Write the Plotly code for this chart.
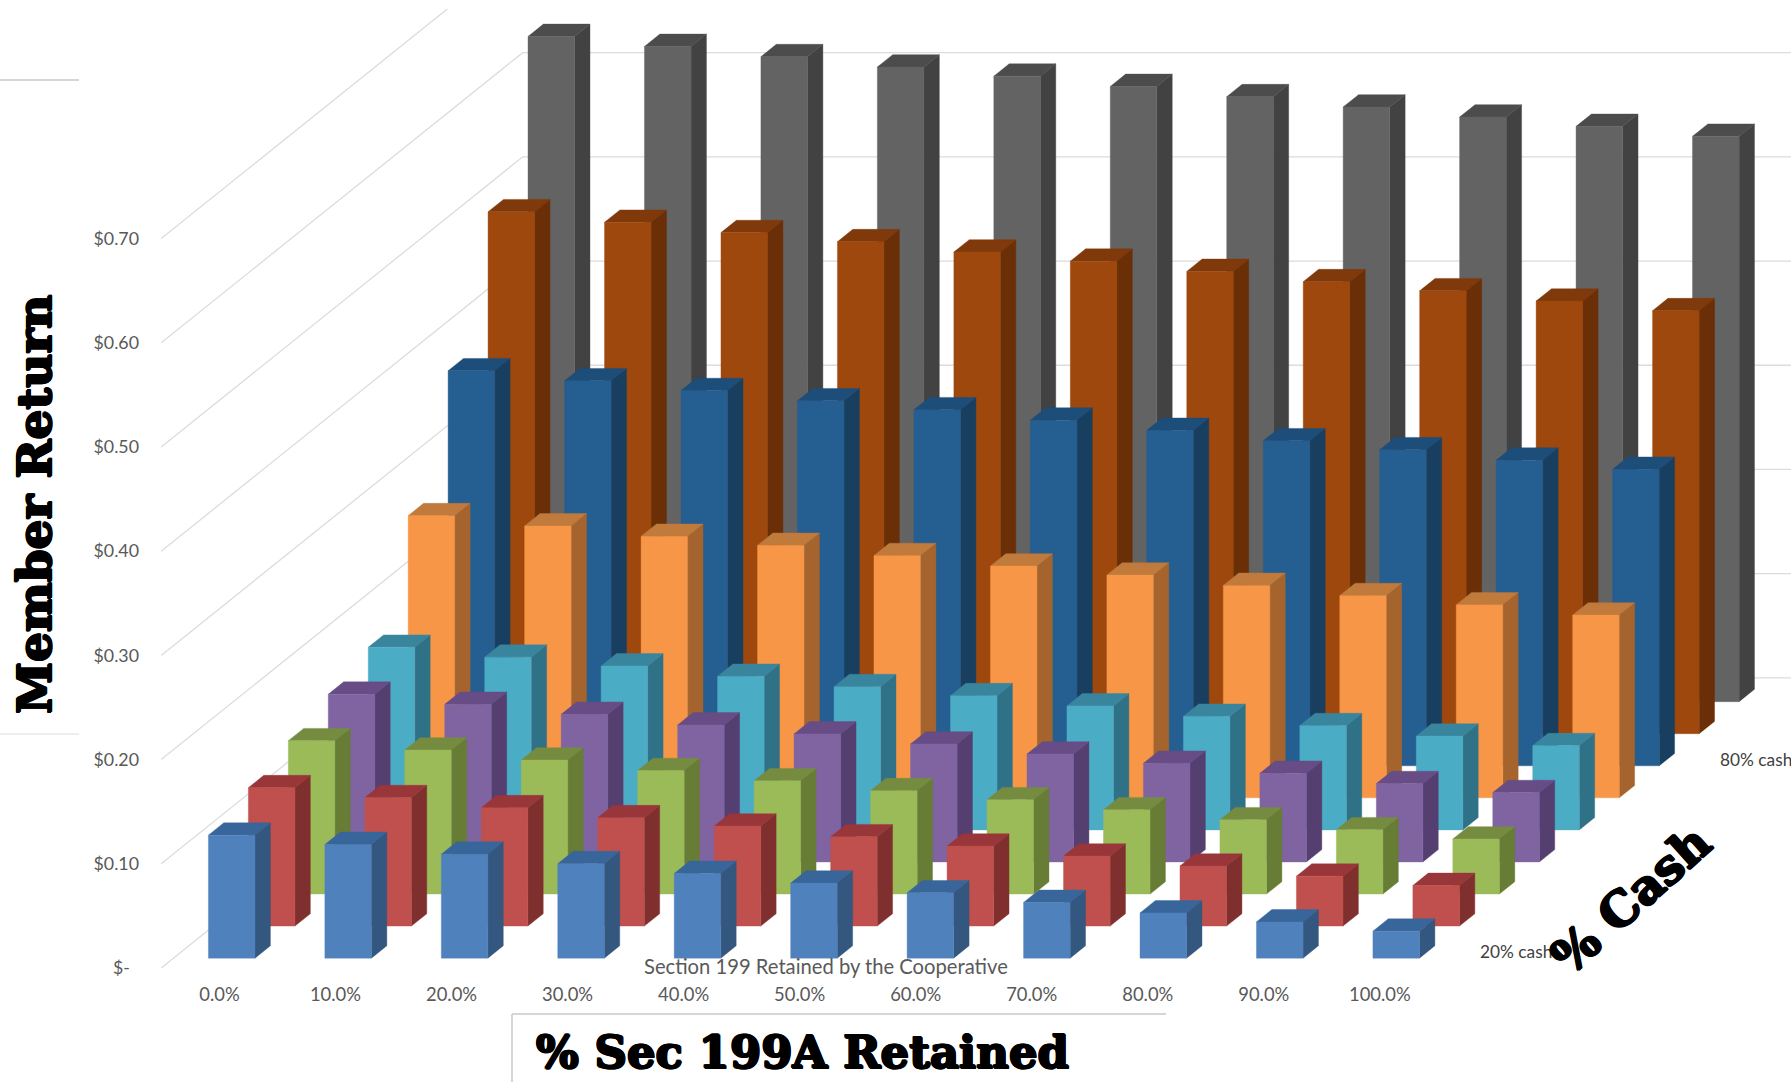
import plotly.graph_objects as go

# Section 199A retained by the cooperative, one slot per category
retained_labels = ["0.0%", "10.0%", "20.0%", "30.0%", "40.0%", "50.0%",
                   "60.0%", "70.0%", "80.0%", "90.0%", "100.0%"]

# Member return per cash share, front row first
cash_labels = ["20% cash", "30% cash", "40% cash", "50% cash", "60% cash",
               "70% cash", "80% cash", "90% cash", "100% cash"]
labelled_cash = ["20% cash", "80% cash"]

cash_20 = [.1180, .1091, .0998, .0907, .0813, .0720, .0627, .0535, .0434, .0348, .0259]
cash_30 = [.1328, .1233, .1136, .1040, .0960, .0857, .0768, .0672, .0576, .0479, .0390]
cash_40 = [.1471, .1382, .1286, .1185, .1087, .0992, .0905, .0809, .0713, .0617, .0528]
cash_50 = [.1610, .1513, .1417, .1315, .1229, .1132, .1036, .0947, .0851, .0752, .0666]
cash_60 = [.1753, .1658, .1574, .1474, .1375, .1288, .1190, .1090, .1001, .0900, .0809]
cash_70 = [.2708, .2610, .2510, .2423, .2325, .2225, .2138, .2039, .1941, .1853, .1754]
cash_80 = [.3791, .3695, .3601, .3503, .3417, .3317, .3219, .3119, .3033, .2933, .2845]
cash_90 = [.5009, .4908, .4809, .4722, .4623, .4535, .4437, .4338, .4251, .4152, .4060]
cash_100 = [.6384, .6288, .6190, .6091, .6003, .5904, .5806, .5707, .5611, .5521, .5426]

all_series = [cash_20, cash_30, cash_40, cash_50, cash_60, cash_70, cash_80, cash_90, cash_100]

return_ticks = [0, .1, .2, .3, .4, .5, .6, .7]
return_tick_labels = ["$-\u00a0\u00a0", "$0.10", "$0.20", "$0.30", "$0.40", "$0.50", "$0.60", "$0.70"]

# (front, side, top) shades per series
face_colors = [
    ("#4F81BD", "#33577F", "#38669A"),
    ("#C0504D", "#802F2F", "#99363A"),
    ("#9BBB59", "#677C34", "#758C40"),
    ("#8064A2", "#553F70", "#674C85"),
    ("#4BACC6", "#2F7288", "#3A859E"),
    ("#F79646", "#A5642E", "#C07A3C"),
    ("#255E91", "#193F60", "#1D4D79"),
    ("#9E480E", "#6A2F07", "#80390A"),
    ("#636363", "#424242", "#4C4C4C"),
]

W, H = 1791, 1082
SLOT_PX = 116.45
VALUE_PX = 1042.0
ORIGIN_X, ORIGIN_Y = 161.2, 968.0
TOP_CLIP = 9
DEPTH_X = 39.95 / SLOT_PX      # sideways shift per series slot, in category units
DEPTH_Y = 32.06 / VALUE_PX     # upward shift per series slot, in dollars
BAR_W = 0.4
BAR_D = 0.385


def project(slot, depth, value):
    """Oblique projection of (category slot, series depth, dollars) onto the axes."""
    return slot + depth * DEPTH_X, value + depth * DEPTH_Y


def px_x(px):
    return px / W


def px_y(py):
    return 1 - py / H


fig = go.Figure()

# Floor-to-wall gridlines: along the left wall, then across the back wall
grid_x, grid_y = [], []
n_depth = len(all_series)
n_slots = len(retained_labels)
wall_depth = n_depth + 0.05
for tick in return_ticks:
    for slot, depth in ((0, 0), (0, wall_depth), (n_slots + 1, wall_depth)):
        gx, gy = project(slot, depth, tick)
        grid_x.append(gx)
        grid_y.append(gy)
    grid_x.append(None)
    grid_y.append(None)
fig.add_trace(go.Scatter(x=grid_x, y=grid_y, mode="lines", hoverinfo="skip",
                         line=dict(color="#DCDCDC", width=1.3), showlegend=False))


def add_face(xs, ys, color):
    fig.add_trace(go.Scatter(x=xs, y=ys, mode="lines", fill="toself", fillcolor=color,
                             line=dict(color=color, width=0.4), hoverinfo="skip",
                             showlegend=False))


# Rows are painted back to front so nearer bars cover farther ones
for s in reversed(range(n_depth)):
    front_c, side_c, top_c = face_colors[s]
    d0 = s + (1 - BAR_D) / 2
    d1 = d0 + BAR_D
    front, side, top = ([], []), ([], []), ([], [])
    for i, v in enumerate(all_series[s]):
        x0 = i + (1 - BAR_W) / 2
        x1 = x0 + BAR_W
        polys = (
            (front, [(x0, d0, 0), (x1, d0, 0), (x1, d0, v), (x0, d0, v)]),
            (side, [(x1, d0, 0), (x1, d1, 0), (x1, d1, v), (x1, d0, v)]),
            (top, [(x0, d0, v), (x1, d0, v), (x1, d1, v), (x0, d1, v)]),
        )
        for store, corners in polys:
            pts = [project(*c) for c in corners]
            pts.append(pts[0])
            store[0].extend([p[0] for p in pts] + [None])
            store[1].extend([p[1] for p in pts] + [None])
    add_face(side[0], side[1], side_c)
    add_face(top[0], top[1], top_c)
    add_face(front[0], front[1], front_c)

x_tick_font = dict(family="Lato, sans-serif", size=18.4, color="#595959")
y_tick_font = dict(family="Lato, sans-serif", size=17.8, color="#595959")

annotations = []

# Depth axis labels sit just past the last category at their row's centre
for name in labelled_cash:
    s = cash_labels.index(name)
    ax, ay = project(n_slots + 0.14, s + 0.5, 0)
    annotations.append(dict(x=ax, y=ay, xref="x", yref="y", text=name, showarrow=False,
                            xanchor="left", yanchor="middle",
                            font=dict(family="Lato, sans-serif", size=17.3, color="#404040")))

annotations.append(dict(x=px_x(826), y=px_y(966), xref="paper", yref="paper",
                        xanchor="center", yanchor="middle",
                        text="Section 199 Retained by the Cooperative", showarrow=False,
                        font=dict(family="Lato, sans-serif", size=20.2, color="#595959")))

# Heavy slab look for the hand-placed titles
heavy = "1px 0 0 #000, -1px 0 0 #000, 0 1px 0 #000, 0 -1px 0 #000, 1px 1px 0 #000, -1px -1px 0 #000"
title_font = dict(family="DejaVu Serif, serif", color="#000000", shadow=heavy)
annotations.append(dict(x=px_x(34), y=px_y(505), xref="paper", yref="paper", text="<b>Member Return</b>",
                        xanchor="center", yanchor="middle",
                        textangle=-90, showarrow=False, font=dict(size=47, **title_font)))
annotations.append(dict(x=px_x(802), y=px_y(1052), xref="paper", yref="paper", text="<b>% Sec 199A Retained</b>",
                        xanchor="center", yanchor="middle",
                        showarrow=False, font=dict(size=45, **title_font)))
annotations.append(dict(x=px_x(1631), y=px_y(899), xref="paper", yref="paper", text="<b>% Cash</b>",
                        xanchor="center", yanchor="middle",
                        textangle=-42, showarrow=False, font=dict(size=48, **title_font)))

rules = [
    dict(x0=0, x1=79, y0=80, y1=80, color="#C8C8C8", width=1.5),
    dict(x0=0, x1=79, y0=734, y1=734, color="#DDDDDD", width=1.2),
    dict(x0=512, x1=1166, y0=1014, y1=1014, color="#C8C8C8", width=1.5),
    dict(x0=512, x1=512, y0=1014, y1=1082, color="#C8C8C8", width=1.5),
]
shapes = [dict(type="line", xref="paper", yref="paper",
               x0=px_x(r["x0"]), x1=px_x(r["x1"]), y0=px_y(r["y0"]), y1=px_y(r["y1"]),
               line=dict(color=r["color"], width=r["width"])) for r in rules]

fig.update_layout(
    width=W, height=H, margin=dict(l=0, r=0, t=0, b=0), autosize=False,
    paper_bgcolor="#FFFFFF", plot_bgcolor="#FFFFFF", showlegend=False,
    annotations=annotations, shapes=shapes,
    xaxis=dict(
        range=[-ORIGIN_X / SLOT_PX, (W - ORIGIN_X) / SLOT_PX],
        domain=[0, 1], anchor="free", position=px_y(982),
        tickmode="array", tickvals=[i * 0.9965 + 0.5 for i in range(n_slots)], ticktext=retained_labels,
        showgrid=False, zeroline=False, showline=False, ticks="", tickfont=x_tick_font,
    ),
    yaxis=dict(
        range=[(ORIGIN_Y - H) / VALUE_PX, (ORIGIN_Y - TOP_CLIP) / VALUE_PX],
        domain=[0, 1 - TOP_CLIP / H], anchor="free", position=px_x(139),
        tickmode="array", tickvals=return_ticks, ticktext=return_tick_labels,
        showgrid=False, zeroline=False, showline=False, ticks="", tickfont=y_tick_font,
    ),
)

fig.write_html("out.html", config=dict(displayModeBar=False))
